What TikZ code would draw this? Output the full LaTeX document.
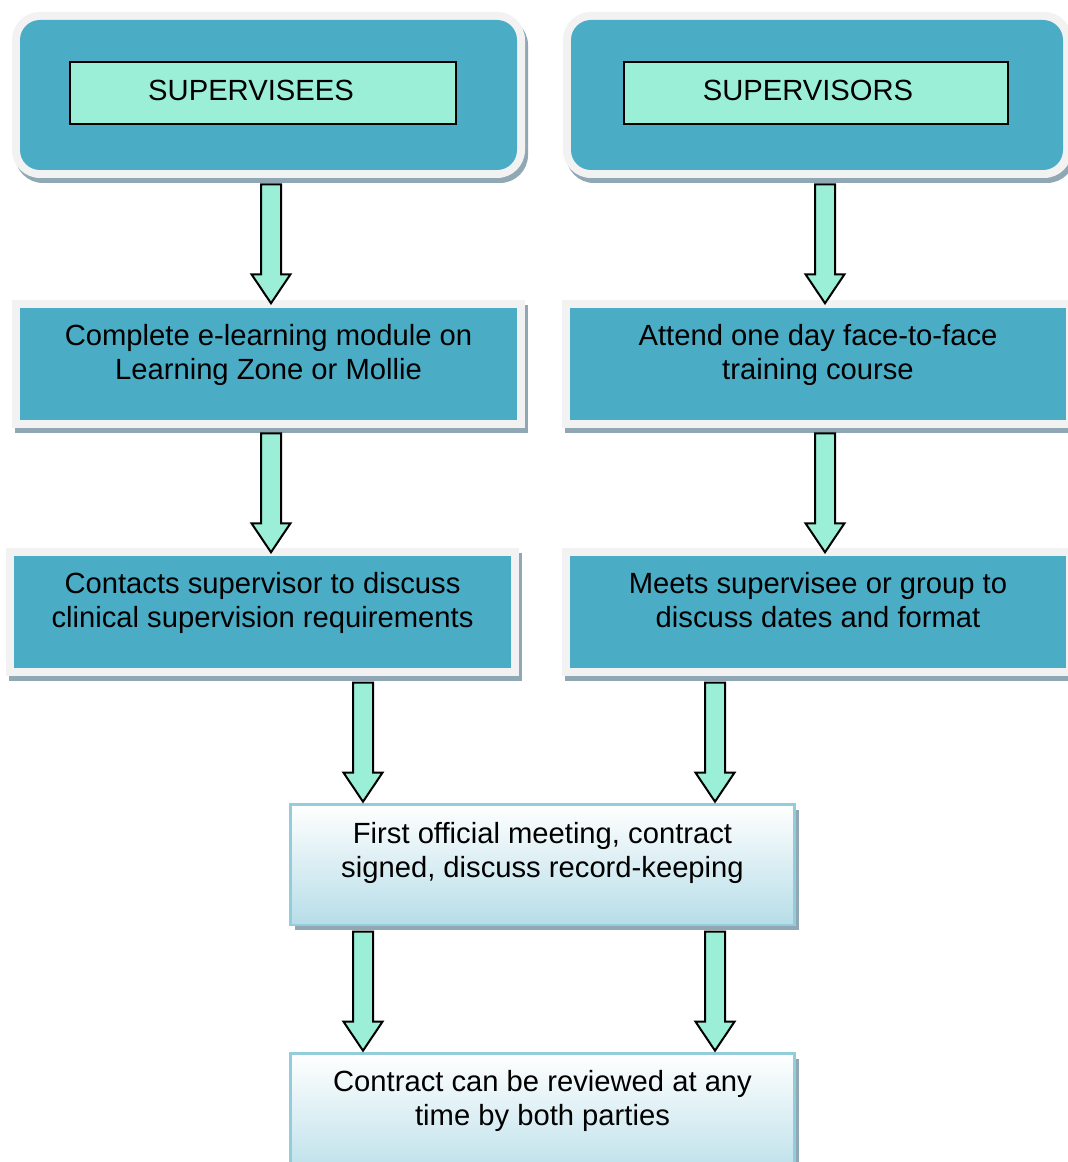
\documentclass[tikz,border=0pt]{standalone}
\usepackage{fontspec}
\setmainfont{Liberation Sans}
\usetikzlibrary{fit,shadows,calc}
\definecolor{blueC}{HTML}{4BACC6}
\definecolor{mintC}{HTML}{9AEFD6}
\definecolor{frameC}{HTML}{F2F2F2}
\definecolor{shadowC}{HTML}{90A8B3}
\definecolor{lightC}{HTML}{93CDDC}
\definecolor{gradC}{HTML}{B6DDE8}
\begin{document}
\begin{tikzpicture}[x=0.75pt,y=-0.75pt,
  frame/.style={fill=frameC, inner sep=0pt,
    drop shadow={shadow xshift=2.25pt, shadow yshift=-3.75pt, opacity=1, fill=shadowC}},
  rframe/.style={frame, rounded corners=21pt},
  bluebox/.style={fill=blueC, inner sep=0pt},
  rbluebox/.style={bluebox, rounded corners=15pt},
  label/.style={fill=mintC, draw=black, line width=1.5pt, inner sep=0pt},
  paleC/.style={draw=lightC, line width=2pt, inner sep=0pt, top color=white, bottom color=gradC,
    drop shadow={shadow xshift=3pt, shadow yshift=-3.75pt, opacity=1, fill=shadowC}},
  txt/.style={font=\fontsize{21.9}{25.3}\selectfont, align=center, inner sep=0pt, anchor=base},
  fatarrow/.pic={\draw[fill=mintC, draw=black, line width=1.5pt, line join=miter]
     (-10,0) -- (10,0) -- (10,90) -- (19.5,90) -- (0,119) -- (-19.5,90) -- (-10,90) -- cycle;}
]
\useasboundingbox[fill=white] (0,0) rectangle (1067,1162);

% top row
\node[rframe, fit={(12,12) (525,178)}] (f1) {};
\node[rbluebox, fit={(20,20) (517,170)}] (b1) {};
\node[label, fit={(70,62) (456,124)}] (l1) {};
\node[txt] (t1) at (251,101) {SUPERVISEES};

\node[rframe, fit={(563,12) (1072,178)}] (f2) {};
\node[rbluebox, fit={(571,20) (1063,170)}] (b2) {};
\node[label, fit={(624,62) (1008,124)}] (l2) {};
\node[txt] (t2) at (808,101) {SUPERVISORS};

% second row
\node[frame, fit={(12,300) (525,428)}] (f3) {};
\node[bluebox, fit={(20,308) (517,420)}] (b3) {};
\node[txt] (t3) at (268.5,379) {Complete e-learning module on\\Learning Zone or Mollie};

\node[frame, fit={(562,300) (1076,428)}] (f4) {};
\node[bluebox, fit={(570,308) (1066,420)}] (b4) {};
\node[txt] (t4) at (818,379) {Attend one day face-to-face\\training course};

% third row
\node[frame, fit={(6,548) (519,676)}] (f5) {};
\node[bluebox, fit={(14,556) (511,668)}] (b5) {};
\node[txt] (t5) at (262.5,627) {Contacts supervisor to discuss\\clinical supervision requirements};

\node[frame, fit={(562,548) (1076,676)}] (f6) {};
\node[bluebox, fit={(570,556) (1066,668)}] (b6) {};
\node[txt] (t6) at (818,627) {Meets supervisee or group to\\discuss dates and format};

% bottom boxes
\node[paleC, fit={(290.5,804.5) (794.5,925)}] (m1) {};
\node[txt] (t7) at (542.5,877) {First official meeting, contract\\signed, discuss record-keeping};

\node[paleC, fit={(290.5,1053.5) (794.5,1185)}] (m2) {};
\node[txt] (t8) at (542.5,1125) {Contract can be reviewed at any\\time by both parties};

% arrows
\pic at ($(f1.south)+(2.5,6)$) {fatarrow};
\pic at ($(f2.south)+(7.5,6)$) {fatarrow};
\pic at ($(f3.south)+(2.5,5)$) {fatarrow};
\pic at ($(f4.south)+(6,5)$) {fatarrow};
\pic at ($(m1.north)+(-179.5,-120.5)$) {fatarrow};
\pic at ($(m1.north)+(172.5,-120.5)$) {fatarrow};
\pic at ($(m2.north)+(-179.5,-120.5)$) {fatarrow};
\pic at ($(m2.north)+(172.5,-120.5)$) {fatarrow};
\end{tikzpicture}
\end{document}
